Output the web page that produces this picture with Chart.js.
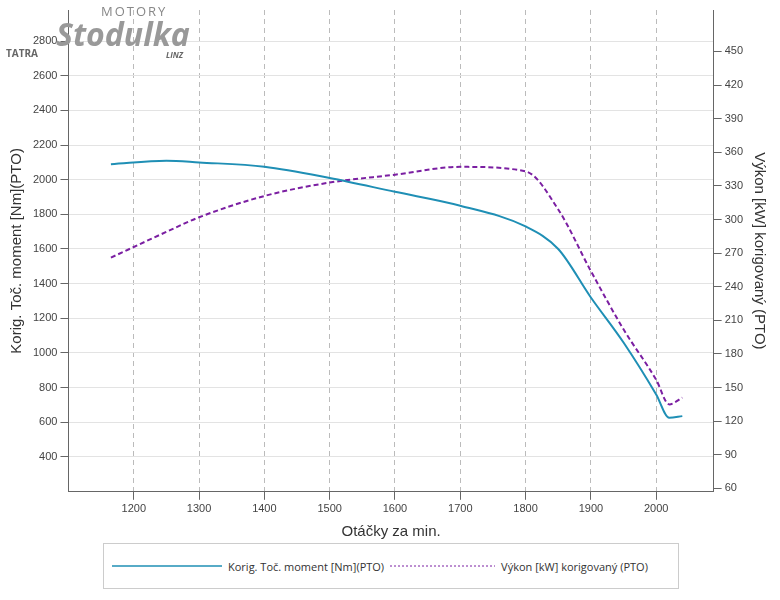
<!DOCTYPE html>
<html><head><meta charset="utf-8">
<script src="https://cdn.jsdelivr.net/npm/chart.js@4"></script>
<style>
body{margin:0;background:#fff;font-family:"Open Sans",Arial,sans-serif;}
#wrap{position:relative;width:780px;height:600px;}
#c{position:absolute;left:0;top:0;}
#logo{position:absolute;left:6px;top:2px;color:#777;}
#legend{position:absolute;left:103px;top:543px;width:574px;height:44px;border:1px solid #ccc;font-size:11px;color:#333;display:flex;align-items:center;background:#fff;}
</style></head><body>
<div id="wrap">
<canvas id="c" width="780" height="545"></canvas>
<div id="logo">
<div style="position:absolute;left:95px;top:0;font-size:13px;letter-spacing:2px;color:#888">MOTORY</div>
<div style="position:absolute;left:50px;top:10px;font-size:32px;font-style:italic;font-weight:bold;color:#999;white-space:nowrap">Stodulka</div>
<div style="position:absolute;left:0;top:44px;font-size:10px;font-weight:bold;color:#666">TATRA</div>
<div style="position:absolute;left:160px;top:47px;font-size:8px;font-weight:bold;font-style:italic;color:#666">LINZ</div>
</div>
<div id="legend">
<svg width="110" height="10" style="margin-left:8px"><line x1="0" y1="5" x2="110" y2="5" stroke="#1f8fb5" stroke-width="1.5"/></svg>
<span style="margin-left:6px">Korig. Toč. moment [Nm](PTO)</span>
<svg width="105" height="10" style="margin-left:6px"><line x1="0" y1="5" x2="105" y2="5" stroke="#7b1fa2" stroke-width="1" stroke-dasharray="2,2"/></svg>
<span style="margin-left:6px">Výkon [kW] korigovaný (PTO)</span>
</div>
</div>
<script>
const rpm = [1165,1250,1300,1400,1500,1600,1700,1800,1850,1900,1950,2000,2020,2040];
const torque = [2090,2110,2100,2075,2010,1930,1850,1730,1600,1320,1060,760,625,635];
const power = [266,289,302,321,333,340,347,343,309,254,202,157,135,141];
const xTicks = [1200,1300,1400,1500,1600,1700,1800,1900,2000];
const yLeftTicks = [400,600,800,1000,1200,1400,1600,1800,2000,2200,2400,2600,2800];
const yRightTicks = [60,90,120,150,180,210,240,270,300,330,360,390,420,450];
const pts = (a)=>rpm.map((r,i)=>({x:r,y:a[i]}));
const fmt = v=>String(v);
new Chart(document.getElementById('c'),{
 type:'line',
 data:{datasets:[
  {data:pts(torque),yAxisID:'y',borderColor:'#1f8fb5',borderWidth:2,pointRadius:0,cubicInterpolationMode:'monotone'},
  {data:pts(power),yAxisID:'y1',borderColor:'#7b1fa2',borderWidth:2,borderDash:[5,3],pointRadius:0,cubicInterpolationMode:'monotone'}
 ]},
 options:{responsive:false,animation:false,
  layout:{padding:{top:10,right:8,left:4}},
  plugins:{legend:{display:false},tooltip:{enabled:false}},
  scales:{
   x:{type:'linear',min:1100,max:2088,afterBuildTicks:s=>{s.ticks=xTicks.map(v=>({value:v}))},
      grid:{color:'#bbb',tickColor:'#666'},
      border:{color:'#666',dash:[5,4]},
      ticks:{color:'#444',font:{size:11},callback:fmt},
      title:{display:true,text:'Otáčky za min.',color:'#333',font:{size:15}}},
   y:{position:'left',min:198,max:2980,afterBuildTicks:s=>{s.ticks=yLeftTicks.map(v=>({value:v}))},
      grid:{color:'#e3e3e3',tickColor:'#666'},border:{color:'#666'},
      ticks:{color:'#444',font:{size:11},callback:fmt},
      title:{display:true,text:'Korig. Toč. moment [Nm](PTO)',color:'#333',font:{size:15}}},
   y1:{position:'right',min:57,max:487,afterBuildTicks:s=>{s.ticks=yRightTicks.map(v=>({value:v}))},
      grid:{drawOnChartArea:false,tickColor:'#666'},border:{color:'#666'},
      ticks:{color:'#444',font:{size:11},callback:fmt},
      title:{display:true,text:'Výkon [kW] korigovaný (PTO)',color:'#333',font:{size:15}}}
  }}
});
</script>
</body></html>
